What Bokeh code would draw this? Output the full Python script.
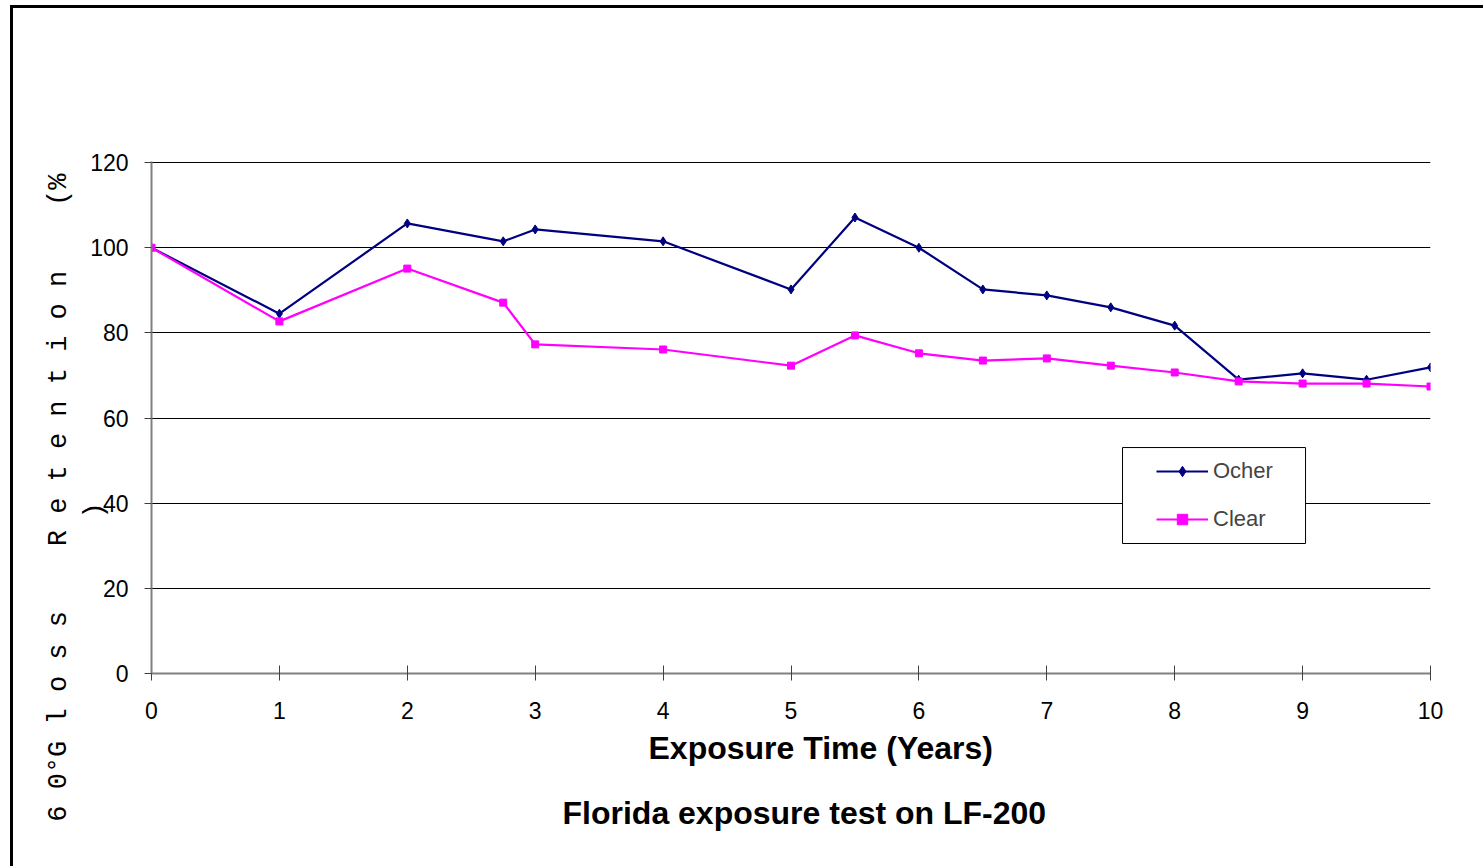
import math
from bokeh.plotting import figure
from bokeh.models import Range1d, Label, BoxAnnotation, Legend, LegendItem, FixedTicker, Title
from bokeh.embed import file_html
from bokeh.resources import INLINE

# ---- data ----
years = [0, 1, 2, 2.75, 3, 4, 5, 5.5, 6, 6.5, 7, 7.5, 8, 8.5, 9, 9.5, 10]
ocher = [100, 84.5, 105.7, 101.5, 104.3, 101.5, 90.2, 107.1, 100, 90.2, 88.8, 86.0, 81.7, 69.0, 70.5, 69.0, 71.9]
clear = [100, 82.7, 95.1, 87.1, 77.3, 76.1, 72.3, 79.4, 75.2, 73.5, 74.0, 72.3, 70.7, 68.6, 68.1, 68.1, 67.4]
x_ticks = [0, 1, 2, 3, 4, 5, 6, 7, 8, 9, 10]
y_ticks = [0, 20, 40, 60, 80, 100, 120]
series_names = ["Ocher", "Clear"]
x_title = "Exposure Time (Years)"
NB = "\u00a0"
y_title_line1 = "6 0°G l o s s" + NB * 4 + "R e t e n t i o n" + NB * 4 + "(%"
y_title_line2 = ")"
chart_title = "Florida exposure test on LF-200"

NAVY = "#000080"
MAGENTA = "#FF00FF"

p = figure(width=1470, height=858, output_backend="svg", toolbar_location=None,
           x_range=Range1d(0, 10), y_range=Range1d(0, 120.25),
           frame_width=1279, frame_height=512,
           min_border_left=138, min_border_right=53, min_border_top=153, min_border_bottom=193)
p.styles = {"border-left": "3px solid black", "border-top": "3px solid black",
            "margin-left": "10px", "margin-top": "5px"}
p.outline_line_color = None
p.background_fill_color = "white"
p.border_fill_color = "white"

# grid
p.xgrid.grid_line_color = None
p.ygrid.grid_line_color = "black"
p.ygrid.grid_line_width = 1
p.ygrid.ticker = FixedTicker(ticks=y_ticks)

# axes
for ax in (p.xaxis[0], p.yaxis[0]):
    ax.axis_line_color = "#808080"
    ax.axis_line_width = 2
    ax.major_tick_line_color = "#404040"
    ax.major_tick_line_width = 1
    ax.minor_tick_line_color = None
    ax.major_label_text_font = "Liberation Sans"
    ax.major_label_text_font_size = "23px"
    ax.major_label_text_color = "black"

p.xaxis.ticker = FixedTicker(ticks=x_ticks)
p.yaxis.ticker = FixedTicker(ticks=y_ticks)
p.xaxis.major_tick_in = 8
p.xaxis.major_tick_out = 7
p.yaxis.major_tick_in = 0
p.yaxis.major_tick_out = 7
p.yaxis.major_label_standoff = 16
p.xaxis.major_label_standoff = 21

# series
l1 = p.line(years, ocher, line_color=NAVY, line_width=2.2)
s1 = p.scatter(years, ocher, marker="diamond", size=9, fill_color=NAVY, line_color=NAVY)
l2 = p.line(years, clear, line_color=MAGENTA, line_width=2.2)
s2 = p.scatter(years, clear, marker="square", size=7, fill_color=MAGENTA, line_color=MAGENTA)

# legend box + legend
box = BoxAnnotation(left=7.592, right=9.023, bottom=30.53, top=53.07,
                    fill_color="white", fill_alpha=1.0, line_color="black", line_width=1, line_alpha=1.0)
p.add_layout(box)
legend = Legend(items=[LegendItem(label=series_names[0], renderers=[l1, s1]),
                       LegendItem(label=series_names[1], renderers=[l2, s2])],
                location=(1005, 141), padding=0, margin=0, spacing=22,
                glyph_width=52, glyph_height=26, label_height=26, label_standoff=5,
                label_text_font="Liberation Sans", label_text_font_size="22px",
                border_line_color=None, background_fill_alpha=0)
p.add_layout(legend)

# x axis title and chart title below the axis
p.add_layout(Title(text=x_title, align="left", offset=497, standoff=12,
                   text_font="Liberation Sans", text_font_style="bold", text_font_size="32px",
                   text_color="black"), "below")
p.add_layout(Title(text=chart_title, align="left", offset=411, standoff=43,
                   text_font="Liberation Sans", text_font_style="bold", text_font_size="32px",
                   text_color="black"), "below")

# y title (two lines, rotated) placed in the left panel
p.add_layout(Label(x=-0.727, y=41.3, text=y_title_line1, angle=math.pi / 2,
                   text_align="center", text_baseline="middle",
                   text_font="Liberation Mono", text_font_size="27px", text_color="black"), "left")
p.add_layout(Label(x=-0.438, y=38.3, text=y_title_line2, angle=math.pi / 2,
                   text_align="center", text_baseline="middle",
                   text_font="Liberation Mono", text_font_size="27px", text_color="black"), "left")

open("out.html", "w").write(file_html(p, INLINE))
